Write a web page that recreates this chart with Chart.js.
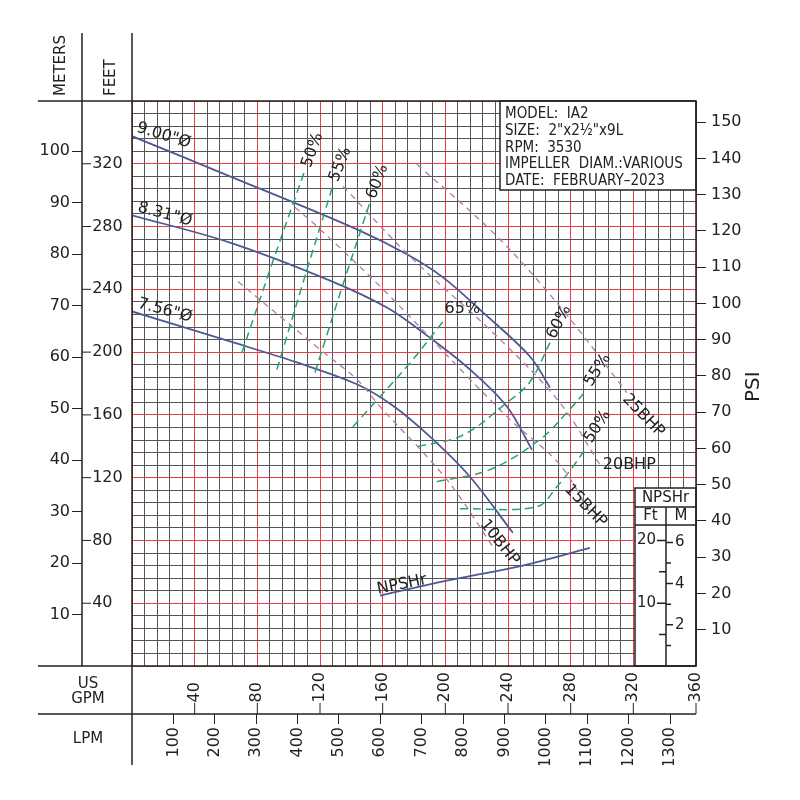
<!DOCTYPE html>
<html>
<head>
<meta charset="utf-8">
<script src="https://cdn.jsdelivr.net/npm/chart.js@4/dist/chart.umd.min.js"></script>
<style>
  body { margin: 0; background: #fff; }
  canvas { display: block; }
</style>
</head>
<body>
<canvas id="pump" width="800" height="800"></canvas>
<script>
// Pump curve IA2 (GPM vs feet of head)
const imp900Gpm = [0, 62.5, 143.6, 175.5, 198.5, 224, 254, 266.8];
const imp900Ft  = [337.6, 312, 278.2, 262.3, 247.6, 225.3, 197.2, 177.4];
const imp831Gpm = [0, 62.5, 126.4, 162.7, 188.3, 215.7, 239.3, 255.3];
const imp831Ft  = [287.2, 269.8, 245.6, 228.4, 210.5, 188.9, 165.3, 137.8];
const imp756Gpm = [0, 62.5, 105.3, 143.6, 166.6, 190.2, 215.7, 243.1];
const imp756Ft  = [225.9, 206.8, 193.4, 179.5, 165.8, 146.1, 120.6, 84.9];

// efficiency lines
const eff50LGpm = [70.2, 90, 110.4];     const eff50LFt = [199.7, 258, 316];
const eff55LGpm = [92.5, 110, 128.3];    const eff55LFt = [188.9, 247, 306.4];
const eff60LGpm = [116.8, 134, 151.9];   const eff60LFt = [187, 241, 295.5];
const eff65Gpm  = [141, 158.3, 179.3, 198.5];  const eff65Ft = [152.5, 171.6, 195.3, 219.5];
const eff60RGpm = [182.5, 211, 239.3, 254, 266.8];   const eff60RFt = [139.8, 147, 167.8, 181, 206.1];
const eff55RGpm = [194.6, 228.5, 260.4, 277.6, 290.4]; const eff55RFt = [117.4, 125.1, 144.3, 161.5, 176.1];
const eff50RGpm = [209.3, 258.5, 271.2, 281.4, 290.4]; const eff50RFt = [100.2, 101.5, 114.2, 127, 139.8];

// brake horsepower lines
const bhp10Gpm = [67.6, 120, 143.6, 158.3, 201, 231.7];  const bhp10Ft = [245, 201.7, 182.5, 165.3, 118.7, 74];
const bhp15Gpm = [104, 118.7, 160.2, 239.3, 273.1, 292.3]; const bhp15Ft = [292.3, 279.5, 240, 158.9, 128.3, 97.6];
const bhp20Gpm = [134.7, 177.4, 232.9, 273.1, 298.7];    const bhp20Ft = [305.7, 261, 210, 167.8, 128.3];
const bhp25Gpm = [181.9, 232.9, 273.1, 315.9];           const bhp25Ft = [319.7, 273.8, 229.1, 174.2];

// NPSHr (feet, on its own small scale)
const npshGpm = [158.3, 201, 249.5, 292.3];
const npshFt  = [11.2, 13.6, 16, 18.8];

const infoLines = ['MODEL:  IA2', 'SIZE:  2"x2½"x9L', 'RPM:  3530', 'IMPELLER  DIAM.:VARIOUS', 'DATE:  FEBRUARY\u20132023'];

const RED = '#e5404c', GRID = '#555', INK = '#222';
const HEAD = '#4d5a92', GREEN = '#22a474', PINK = '#b27aa6';
const FONT = '"DejaVu Sans", sans-serif';

const pts = (g, f) => g.map((v, i) => ({ x: v, y: f[i] }));
const line = (g, f, color, dash, width, yAxisID) => ({
  data: pts(g, f), borderColor: color, borderWidth: width, borderDash: dash,
  showLine: true, pointRadius: 0, tension: 0.35,
  yAxisID: yAxisID || 'y'
});

const plotLabels = [
  ['9.00"Ø', 2.5, 340.5, 0.29, 'alphabetic'],
  ['8.31"Ø', 3.2, 289.7, 0.26, 'alphabetic'],
  ['7.56"Ø', 3.2, 228.5, 0.26, 'alphabetic'],
  ['50%', 111.5, 318, -1.23, 'middle'],
  ['55%', 128.9, 309, -1.2, 'middle'],
  ['60%', 152.6, 298, -1.2, 'middle'],
  ['65%', 199.5, 222.5, 0, 'bottom'],
  ['60%', 267.5, 209, -1.1, 'middle'],
  ['55%', 291, 179, -1.0, 'middle'],
  ['50%', 291, 143, -1.0, 'middle'],
  ['25BHP', 314.6, 171.7, 0.8, 'middle'],
  ['20BHP', 300.5, 128.3, 0, 'middle'],
  ['15BHP', 277.7, 114.2, 0.8, 'middle'],
  ['10BHP', 224, 91.9, 0.9, 'middle'],
  ['NPSHr', 157, 46, -0.2, 'alphabetic']
];

const gridColor = c => c.tick.value % 40 === 0 ? RED : GRID;
const tickShown = (lo, hi, step) => c => {
  const v = Math.round(c.tick.value * 1000) / 1000;
  return (v >= lo && v <= hi && v % step === 0) ? INK : 'transparent';
};

const decor = {
  id: 'decor',
  afterDatasetsDraw(chart) {
    const ctx = chart.ctx, a = chart.chartArea;
    const x = chart.scales.x, y = chart.scales.y, yN = chart.scales.yN;
    ctx.save();
    ctx.fillStyle = INK; ctx.strokeStyle = INK;
    ctx.font = '16px ' + FONT;
    // labels on the curves
    plotLabels.forEach(([t, g, f, rot, base]) => {
      ctx.save();
      ctx.translate(x.getPixelForValue(g), y.getPixelForValue(f));
      ctx.rotate(rot);
      ctx.textAlign = 'left'; ctx.textBaseline = base;
      ctx.fillText(t, 0, 0);
      ctx.restore();
    });

    // info box
    ctx.fillStyle = '#fff';
    ctx.fillRect(500, a.top, a.right - 500, 89);
    ctx.lineWidth = 1.5;
    ctx.strokeRect(500, a.top, a.right - 500, 89);
    ctx.fillStyle = INK;
    ctx.font = '15px "DejaVu Sans Condensed", ' + FONT;
    ctx.textAlign = 'left'; ctx.textBaseline = 'alphabetic';
    infoLines.forEach((t, i) => ctx.fillText(t, 505, 118 + i * 16.8));

    // NPSHr mini axis
    const bx = 635, bTop = 488, mid = 666;
    ctx.fillStyle = '#fff';
    ctx.fillRect(bx, bTop, a.right - bx, a.bottom - bTop);
    ctx.strokeRect(bx, bTop, a.right - bx, a.bottom - bTop);
    ctx.beginPath();
    ctx.moveTo(bx, 507); ctx.lineTo(a.right, 507);
    ctx.moveTo(bx, 525); ctx.lineTo(a.right, 525);
    ctx.moveTo(mid, 507); ctx.lineTo(mid, a.bottom);
    ctx.stroke();
    ctx.fillStyle = INK;
    ctx.font = '15px ' + FONT;
    ctx.textAlign = 'center'; ctx.textBaseline = 'middle';
    ctx.fillText('NPSHr', (bx + a.right) / 2, 498);
    ctx.fillText('Ft', (bx + mid) / 2, 516);
    ctx.fillText('M', (mid + a.right) / 2, 516);
    ctx.beginPath();
    [[20, 9], [10, 9], [15, 7], [5, 7]].forEach(([v, l]) => {
      const py = yN.getPixelForValue(v);
      ctx.moveTo(mid - l, py); ctx.lineTo(mid, py);
    });
    [[6, 7], [4, 7], [2, 7], [1, 5], [3, 5], [5, 5]].forEach(([m, l]) => {
      const py = yN.getPixelForValue(m * 3.2808);
      ctx.moveTo(mid, py); ctx.lineTo(mid + l, py);
    });
    ctx.stroke();
    ctx.font = '15px ' + FONT;
    ctx.textAlign = 'right';
    [20, 10].forEach(v => ctx.fillText(String(v), mid - 10, yN.getPixelForValue(v)));
    ctx.textAlign = 'left';
    [6, 4, 2].forEach(m => ctx.fillText(String(m), mid + 9, yN.getPixelForValue(m * 3.2808)));
    ctx.restore();
  },
  afterDraw(chart) {
    const ctx = chart.ctx, a = chart.chartArea;
    const x = chart.scales.x, y = chart.scales.y;
    ctx.save();
    ctx.strokeStyle = INK; ctx.lineWidth = 1.5;
    ctx.beginPath();
    ctx.moveTo(38, a.top); ctx.lineTo(a.right, a.top);
    ctx.moveTo(38, a.bottom); ctx.lineTo(a.right, a.bottom);
    ctx.moveTo(38, 714); ctx.lineTo(a.right, 714);
    ctx.moveTo(82, 33); ctx.lineTo(82, a.bottom);
    ctx.moveTo(a.left, 33); ctx.lineTo(a.left, 765);
    ctx.moveTo(a.right, a.top); ctx.lineTo(a.right, a.bottom);
    ctx.stroke();
    ctx.lineWidth = 1;
    ctx.beginPath();
    for (let v = 40; v <= 320; v += 40) {
      const py = y.getPixelForValue(v);
      ctx.moveTo(82, py); ctx.lineTo(91, py);
    }
    for (let v = 40; v <= 360; v += 40) {
      const px = x.getPixelForValue(v);
      ctx.moveTo(px, 703); ctx.lineTo(px, 714);
    }
    ctx.stroke();
    // axis captions
    ctx.fillStyle = INK;
    ctx.font = '15px ' + FONT;
    const vText = (t, px, py) => {
      ctx.save(); ctx.translate(px, py); ctx.rotate(-Math.PI / 2);
      ctx.textAlign = 'left'; ctx.textBaseline = 'middle';
      ctx.fillText(t, 0, 0); ctx.restore();
    };
    vText('METERS', 61, 96);
    vText('FEET', 111, 96);
    ctx.font = '20px ' + FONT;
    vText('PSI', 754, 402);
    ctx.font = '15px ' + FONT;
    ctx.textAlign = 'center'; ctx.textBaseline = 'middle';
    ctx.fillText('US', 88, 684);
    ctx.fillText('GPM', 88, 699);
    ctx.fillText('LPM', 88, 739);
    ctx.restore();
  }
};

const tickFont = { family: FONT, size: 16 };

new Chart(document.getElementById('pump'), {
  type: 'scatter',
  data: {
    datasets: [
      line(eff50LGpm, eff50LFt, GREEN, [8, 5], 1.5),
      line(eff55LGpm, eff55LFt, GREEN, [8, 5], 1.5),
      line(eff60LGpm, eff60LFt, GREEN, [8, 5], 1.5),
      line(eff65Gpm, eff65Ft, GREEN, [8, 5], 1.5),
      line(eff60RGpm, eff60RFt, GREEN, [8, 5], 1.5),
      line(eff55RGpm, eff55RFt, GREEN, [8, 5], 1.5),
      line(eff50RGpm, eff50RFt, GREEN, [8, 5], 1.5),
      line(bhp10Gpm, bhp10Ft, PINK, [6, 5], 1.3),
      line(bhp15Gpm, bhp15Ft, PINK, [6, 5], 1.3),
      line(bhp20Gpm, bhp20Ft, PINK, [6, 5], 1.3),
      line(bhp25Gpm, bhp25Ft, PINK, [6, 5], 1.3),
      line(imp900Gpm, imp900Ft, HEAD, [], 1.8),
      line(imp831Gpm, imp831Ft, HEAD, [], 1.8),
      line(imp756Gpm, imp756Ft, HEAD, [], 1.8),
      line(npshGpm, npshFt, HEAD, [], 1.8, 'yN')
    ]
  },
  options: {
    responsive: false,
    animation: false,
    devicePixelRatio: 1,
    layout: { padding: { left: 38, right: 0, top: 101, bottom: 35 } },
    plugins: { legend: { display: false }, tooltip: { enabled: false } },
    scales: {
      x: {
        type: 'linear', position: 'bottom', min: 0, max: 360, weight: 0,
        afterFit: s => { s.height = 48; },
        border: { display: false },
        grid: { color: gridColor, drawTicks: false, lineWidth: 1 },
        ticks: {
          stepSize: 8, autoSkip: false, minRotation: 90, maxRotation: 90, padding: 6,
          color: INK, font: tickFont,
          callback: v => (v > 0 && v % 40 === 0) ? (v < 100 ? v + '  ' : String(v)) : ''
        }
      },
      xL: {
        type: 'linear', position: 'bottom', min: 0, max: 360 * 3.7854, weight: 1,
        afterFit: s => { s.height = 51; },
        border: { display: false },
        grid: { drawOnChartArea: false, tickLength: 10, color: tickShown(100, 1300, 100) },
        ticks: {
          stepSize: 100, autoSkip: false, minRotation: 90, maxRotation: 90, padding: 3,
          color: INK, font: tickFont,
          callback: v => (v >= 100 && v <= 1300 && v % 100 === 0) ? String(v) : ''
        }
      },
      y: {
        type: 'linear', position: 'left', min: 0, max: 360, weight: 0,
        afterFit: s => { s.width = 50; },
        border: { display: false },
        grid: { color: gridColor, drawTicks: false, lineWidth: 1 },
        ticks: {
          stepSize: 8, autoSkip: false, crossAlign: 'far', color: INK, font: tickFont,
          callback: v => (v > 0 && v <= 320 && v % 40 === 0) ? '  ' + v : ''
        }
      },
      yM: {
        type: 'linear', position: 'left', min: 0, max: 360 / 3.2808, weight: 1,
        afterFit: s => { s.width = 44; },
        border: { display: false },
        grid: { drawOnChartArea: false, tickLength: 10, color: tickShown(10, 100, 10) },
        ticks: {
          stepSize: 10, autoSkip: false, padding: 2, color: INK, font: tickFont,
          callback: v => (v >= 10 && v <= 100 && v % 10 === 0) ? String(v) : ''
        }
      },
      yP: {
        type: 'linear', position: 'right', min: 0, max: 360 / 2.31,
        afterFit: s => { s.width = 104; },
        border: { display: false },
        grid: { drawOnChartArea: false, tickLength: 10, color: tickShown(10, 150, 10) },
        ticks: {
          stepSize: 10, autoSkip: false, padding: 5, color: INK, font: tickFont,
          callback: v => (v >= 10 && v <= 150 && v % 10 === 0) ? String(v) : ''
        }
      },
      yN: { type: 'linear', display: false, min: 0, max: 90 }
    }
  },
  plugins: [decor]
});
</script>
</body>
</html>
